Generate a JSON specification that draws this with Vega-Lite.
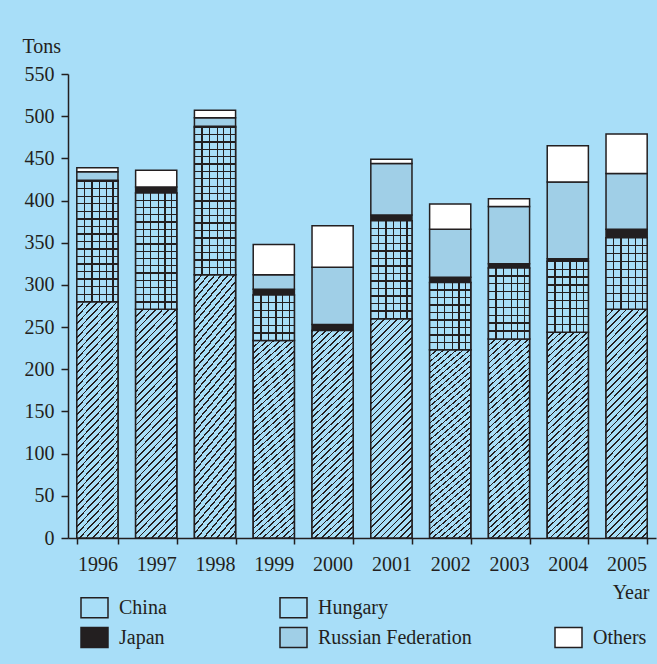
{
  "$schema": "https://vega.github.io/schema/vega-lite/v6.json",
  "width": 588,
  "height": 464,
  "autosize": {"type": "none"},
  "padding": {"left": 68, "top": 74, "right": 1, "bottom": 126},
  "background": "#a8def8",
  "config": {
    "view": {"stroke": null},
    "font": "Liberation Serif",
    "axis": {"domainColor": "#231f20", "tickColor": "#231f20", "labelColor": "#231f20", "titleColor": "#231f20", "labelFont": "Liberation Serif", "titleFont": "Liberation Serif", "labelFontSize": 20, "titleFontSize": 20, "titleFontWeight": "normal", "domainWidth": 1.5, "tickWidth": 1.5, "grid": false},
    "legend": {"labelFont": "Liberation Serif", "labelFontSize": 20, "labelColor": "#231f20"}
  },
  "data": {"values": [
    {"year": "1996", "series": "China", "tons": 280},
    {"year": "1996", "series": "Hungary", "tons": 143},
    {"year": "1996", "series": "Japan", "tons": 1},
    {"year": "1996", "series": "Russian Federation", "tons": 10},
    {"year": "1996", "series": "Others", "tons": 5},
    {"year": "1997", "series": "China", "tons": 271},
    {"year": "1997", "series": "Hungary", "tons": 138},
    {"year": "1997", "series": "Japan", "tons": 7},
    {"year": "1997", "series": "Russian Federation", "tons": 0},
    {"year": "1997", "series": "Others", "tons": 20},
    {"year": "1998", "series": "China", "tons": 312},
    {"year": "1998", "series": "Hungary", "tons": 175},
    {"year": "1998", "series": "Japan", "tons": 1},
    {"year": "1998", "series": "Russian Federation", "tons": 10},
    {"year": "1998", "series": "Others", "tons": 9},
    {"year": "1999", "series": "China", "tons": 234},
    {"year": "1999", "series": "Hungary", "tons": 54},
    {"year": "1999", "series": "Japan", "tons": 7},
    {"year": "1999", "series": "Russian Federation", "tons": 17},
    {"year": "1999", "series": "Others", "tons": 36},
    {"year": "2000", "series": "China", "tons": 246},
    {"year": "2000", "series": "Hungary", "tons": 0},
    {"year": "2000", "series": "Japan", "tons": 7},
    {"year": "2000", "series": "Russian Federation", "tons": 68},
    {"year": "2000", "series": "Others", "tons": 49},
    {"year": "2001", "series": "China", "tons": 260},
    {"year": "2001", "series": "Hungary", "tons": 116},
    {"year": "2001", "series": "Japan", "tons": 7},
    {"year": "2001", "series": "Russian Federation", "tons": 61},
    {"year": "2001", "series": "Others", "tons": 5},
    {"year": "2002", "series": "China", "tons": 223},
    {"year": "2002", "series": "Hungary", "tons": 80},
    {"year": "2002", "series": "Japan", "tons": 6},
    {"year": "2002", "series": "Russian Federation", "tons": 57},
    {"year": "2002", "series": "Others", "tons": 30},
    {"year": "2003", "series": "China", "tons": 236},
    {"year": "2003", "series": "Hungary", "tons": 84},
    {"year": "2003", "series": "Japan", "tons": 5},
    {"year": "2003", "series": "Russian Federation", "tons": 68},
    {"year": "2003", "series": "Others", "tons": 9},
    {"year": "2004", "series": "China", "tons": 244},
    {"year": "2004", "series": "Hungary", "tons": 84},
    {"year": "2004", "series": "Japan", "tons": 3},
    {"year": "2004", "series": "Russian Federation", "tons": 91},
    {"year": "2004", "series": "Others", "tons": 43},
    {"year": "2005", "series": "China", "tons": 271},
    {"year": "2005", "series": "Hungary", "tons": 85},
    {"year": "2005", "series": "Japan", "tons": 10},
    {"year": "2005", "series": "Russian Federation", "tons": 66},
    {"year": "2005", "series": "Others", "tons": 47}
  ]},
  "transform": [
    {"calculate": "indexof(['China','Hungary','Japan','Russian Federation','Others'], datum.series)", "as": "ord"},
    {"stack": "tons", "groupby": ["year"], "sort": [{"field": "ord", "order": "ascending"}], "as": ["y0", "y1"]},
    {"filter": "datum.tons > 0"}
  ],
  "encoding": {
    "x": {
      "field": "year", "type": "nominal",
      "scale": {"paddingInner": 0.3, "paddingOuter": 0.15},
      "axis": {"labelAngle": 0, "tickBand": "extent", "tickSize": 6, "labelPadding": 10, "title": "Year", "titleAnchor": "end", "titleAlign": "right", "titleBaseline": "alphabetic", "titleX": 581, "titleY": 60}
    },
    "y": {
      "field": "y0", "type": "quantitative",
      "scale": {"domain": [0, 550], "nice": false},
      "axis": {"values": [0, 50, 100, 150, 200, 250, 300, 350, 400, 450, 500, 550], "tickSize": 7, "labelPadding": 7, "title": "Tons", "titleAngle": 0, "titleAlign": "left", "titleBaseline": "alphabetic", "titleX": -46, "titleY": -22}
    },
    "y2": {"field": "y1"}
  },
  "layer": [
    {
      "mark": {"type": "bar", "strokeWidth": 1.5},
      "encoding": {
        "fill": {
          "field": "series", "type": "nominal",
          "scale": {"domain": ["China", "Hungary", "blank", "Japan", "Russian Federation", "Others"], "range": ["#a8def8", "#a8def8", "transparent", "#231f20", "#a0cfe7", "#ffffff"]},
          "legend": {"title": null, "orient": "none", "legendX": 12, "legendY": 519, "direction": "horizontal", "columns": 3, "columnPadding": 80, "rowPadding": 2, "padding": 0, "symbolType": "M-1,-0.74H1V0.74H-1Z", "symbolSize": 729, "symbolStrokeWidth": 1.5, "labelOffset": 10,
            "labelExpr": "datum.label == 'China' ? 'China\u2800\u2800' : (datum.label == 'blank' ? '' : datum.label)",
            "encode": {"symbols": {"update": {"fill": {"condition": [
              {"test": "datum.value === 'China'", "value": {"gradient": "linear", "x1": 0, "y1": 0, "x2": 1.124, "y2": 0.833, "stops": [
                {"offset": 0, "color": "#a8def8"}, {"offset": 0.09, "color": "#a8def8"}, {"offset": 0.09, "color": "#231f20"}, {"offset": 0.13, "color": "#231f20"},
                {"offset": 0.13, "color": "#a8def8"}, {"offset": 0.257, "color": "#a8def8"}, {"offset": 0.257, "color": "#231f20"}, {"offset": 0.297, "color": "#231f20"},
                {"offset": 0.297, "color": "#a8def8"}, {"offset": 0.424, "color": "#a8def8"}, {"offset": 0.424, "color": "#231f20"}, {"offset": 0.464, "color": "#231f20"},
                {"offset": 0.464, "color": "#a8def8"}, {"offset": 0.591, "color": "#a8def8"}, {"offset": 0.591, "color": "#231f20"}, {"offset": 0.631, "color": "#231f20"},
                {"offset": 0.631, "color": "#a8def8"}, {"offset": 0.758, "color": "#a8def8"}, {"offset": 0.758, "color": "#231f20"}, {"offset": 0.798, "color": "#231f20"},
                {"offset": 0.798, "color": "#a8def8"}, {"offset": 0.925, "color": "#a8def8"}, {"offset": 0.925, "color": "#231f20"}, {"offset": 0.965, "color": "#231f20"},
                {"offset": 0.965, "color": "#a8def8"}, {"offset": 1, "color": "#a8def8"}
              ]}},
              {"test": "datum.value === 'Hungary'", "value": {"gradient": "linear", "x1": 0, "y1": 0, "x2": 1, "y2": 0, "stops": [
                {"offset": 0, "color": "#a8def8"}, {"offset": 0.31, "color": "#a8def8"}, {"offset": 0.31, "color": "#231f20"}, {"offset": 0.36, "color": "#231f20"},
                {"offset": 0.36, "color": "#a8def8"}, {"offset": 0.64, "color": "#a8def8"}, {"offset": 0.64, "color": "#231f20"}, {"offset": 0.69, "color": "#231f20"},
                {"offset": 0.69, "color": "#a8def8"}, {"offset": 1, "color": "#a8def8"}
              ]}},
              {"test": "datum.value === 'Japan'", "value": "#231f20"},
              {"test": "datum.value === 'Russian Federation'", "value": "#a0cfe7"},
              {"test": "datum.value === 'blank'", "value": "transparent"}
            ], "value": "#ffffff"}}}}
          }
        },
        "stroke": {
          "field": "series", "type": "nominal",
          "scale": {"domain": ["China", "Hungary", "blank", "Japan", "Russian Federation", "Others"], "range": ["#231f20", "#231f20", "transparent", "#231f20", "#231f20", "#231f20"]},
          "legend": {"title": null, "orient": "none", "legendX": 12, "legendY": 519, "direction": "horizontal", "columns": 3, "columnPadding": 80, "rowPadding": 2, "padding": 0, "symbolType": "M-1,-0.74H1V0.74H-1Z", "symbolSize": 729, "symbolStrokeWidth": 1.5, "labelOffset": 10,
            "labelExpr": "datum.label == 'China' ? 'China\u2800\u2800' : (datum.label == 'blank' ? '' : datum.label)",
            "encode": {"symbols": {"update": {"fill": {"condition": [
              {"test": "datum.value === 'China'", "value": {"gradient": "linear", "x1": 0, "y1": 0, "x2": 1.124, "y2": 0.833, "stops": [
                {"offset": 0, "color": "#a8def8"}, {"offset": 0.09, "color": "#a8def8"}, {"offset": 0.09, "color": "#231f20"}, {"offset": 0.13, "color": "#231f20"},
                {"offset": 0.13, "color": "#a8def8"}, {"offset": 0.257, "color": "#a8def8"}, {"offset": 0.257, "color": "#231f20"}, {"offset": 0.297, "color": "#231f20"},
                {"offset": 0.297, "color": "#a8def8"}, {"offset": 0.424, "color": "#a8def8"}, {"offset": 0.424, "color": "#231f20"}, {"offset": 0.464, "color": "#231f20"},
                {"offset": 0.464, "color": "#a8def8"}, {"offset": 0.591, "color": "#a8def8"}, {"offset": 0.591, "color": "#231f20"}, {"offset": 0.631, "color": "#231f20"},
                {"offset": 0.631, "color": "#a8def8"}, {"offset": 0.758, "color": "#a8def8"}, {"offset": 0.758, "color": "#231f20"}, {"offset": 0.798, "color": "#231f20"},
                {"offset": 0.798, "color": "#a8def8"}, {"offset": 0.925, "color": "#a8def8"}, {"offset": 0.925, "color": "#231f20"}, {"offset": 0.965, "color": "#231f20"},
                {"offset": 0.965, "color": "#a8def8"}, {"offset": 1, "color": "#a8def8"}
              ]}},
              {"test": "datum.value === 'Hungary'", "value": {"gradient": "linear", "x1": 0, "y1": 0, "x2": 1, "y2": 0, "stops": [
                {"offset": 0, "color": "#a8def8"}, {"offset": 0.31, "color": "#a8def8"}, {"offset": 0.31, "color": "#231f20"}, {"offset": 0.36, "color": "#231f20"},
                {"offset": 0.36, "color": "#a8def8"}, {"offset": 0.64, "color": "#a8def8"}, {"offset": 0.64, "color": "#231f20"}, {"offset": 0.69, "color": "#231f20"},
                {"offset": 0.69, "color": "#a8def8"}, {"offset": 1, "color": "#a8def8"}
              ]}},
              {"test": "datum.value === 'Japan'", "value": "#231f20"},
              {"test": "datum.value === 'Russian Federation'", "value": "#a0cfe7"},
              {"test": "datum.value === 'blank'", "value": "transparent"}
            ], "value": "#ffffff"}}}}
          }
        }
      }
    },
    {
      "transform": [{"filter": "datum.series == 'China'"}],
      "mark": {"type": "bar", "strokeWidth": 1.5, "stroke": "#231f20",
        "fill": {"gradient": "linear", "x1": 0, "y1": 0, "x2": 0.213, "y2": 1.146, "stops": [
          {"offset": 0, "color": "#231f20"}, {"offset": 0.0065, "color": "#231f20"}, {"offset": 0.0065, "color": "#a8def8"}, {"offset": 0.025, "color": "#a8def8"},
          {"offset": 0.025, "color": "#231f20"}, {"offset": 0.0315, "color": "#231f20"}, {"offset": 0.0315, "color": "#a8def8"}, {"offset": 0.05, "color": "#a8def8"},
          {"offset": 0.05, "color": "#231f20"}, {"offset": 0.0565, "color": "#231f20"}, {"offset": 0.0565, "color": "#a8def8"}, {"offset": 0.075, "color": "#a8def8"},
          {"offset": 0.075, "color": "#231f20"}, {"offset": 0.0815, "color": "#231f20"}, {"offset": 0.0815, "color": "#a8def8"}, {"offset": 0.1, "color": "#a8def8"},
          {"offset": 0.1, "color": "#231f20"}, {"offset": 0.1065, "color": "#231f20"}, {"offset": 0.1065, "color": "#a8def8"}, {"offset": 0.125, "color": "#a8def8"},
          {"offset": 0.125, "color": "#231f20"}, {"offset": 0.1315, "color": "#231f20"}, {"offset": 0.1315, "color": "#a8def8"}, {"offset": 0.15, "color": "#a8def8"},
          {"offset": 0.15, "color": "#231f20"}, {"offset": 0.1565, "color": "#231f20"}, {"offset": 0.1565, "color": "#a8def8"}, {"offset": 0.175, "color": "#a8def8"},
          {"offset": 0.175, "color": "#231f20"}, {"offset": 0.1815, "color": "#231f20"}, {"offset": 0.1815, "color": "#a8def8"}, {"offset": 0.2, "color": "#a8def8"},
          {"offset": 0.2, "color": "#231f20"}, {"offset": 0.2065, "color": "#231f20"}, {"offset": 0.2065, "color": "#a8def8"}, {"offset": 0.225, "color": "#a8def8"},
          {"offset": 0.225, "color": "#231f20"}, {"offset": 0.2315, "color": "#231f20"}, {"offset": 0.2315, "color": "#a8def8"}, {"offset": 0.25, "color": "#a8def8"},
          {"offset": 0.25, "color": "#231f20"}, {"offset": 0.2565, "color": "#231f20"}, {"offset": 0.2565, "color": "#a8def8"}, {"offset": 0.275, "color": "#a8def8"},
          {"offset": 0.275, "color": "#231f20"}, {"offset": 0.2815, "color": "#231f20"}, {"offset": 0.2815, "color": "#a8def8"}, {"offset": 0.3, "color": "#a8def8"},
          {"offset": 0.3, "color": "#231f20"}, {"offset": 0.3065, "color": "#231f20"}, {"offset": 0.3065, "color": "#a8def8"}, {"offset": 0.325, "color": "#a8def8"},
          {"offset": 0.325, "color": "#231f20"}, {"offset": 0.3315, "color": "#231f20"}, {"offset": 0.3315, "color": "#a8def8"}, {"offset": 0.35, "color": "#a8def8"},
          {"offset": 0.35, "color": "#231f20"}, {"offset": 0.3565, "color": "#231f20"}, {"offset": 0.3565, "color": "#a8def8"}, {"offset": 0.375, "color": "#a8def8"},
          {"offset": 0.375, "color": "#231f20"}, {"offset": 0.3815, "color": "#231f20"}, {"offset": 0.3815, "color": "#a8def8"}, {"offset": 0.4, "color": "#a8def8"},
          {"offset": 0.4, "color": "#231f20"}, {"offset": 0.4065, "color": "#231f20"}, {"offset": 0.4065, "color": "#a8def8"}, {"offset": 0.425, "color": "#a8def8"},
          {"offset": 0.425, "color": "#231f20"}, {"offset": 0.4315, "color": "#231f20"}, {"offset": 0.4315, "color": "#a8def8"}, {"offset": 0.45, "color": "#a8def8"},
          {"offset": 0.45, "color": "#231f20"}, {"offset": 0.4565, "color": "#231f20"}, {"offset": 0.4565, "color": "#a8def8"}, {"offset": 0.475, "color": "#a8def8"},
          {"offset": 0.475, "color": "#231f20"}, {"offset": 0.4815, "color": "#231f20"}, {"offset": 0.4815, "color": "#a8def8"}, {"offset": 0.5, "color": "#a8def8"},
          {"offset": 0.5, "color": "#231f20"}, {"offset": 0.5065, "color": "#231f20"}, {"offset": 0.5065, "color": "#a8def8"}, {"offset": 0.525, "color": "#a8def8"},
          {"offset": 0.525, "color": "#231f20"}, {"offset": 0.5315, "color": "#231f20"}, {"offset": 0.5315, "color": "#a8def8"}, {"offset": 0.55, "color": "#a8def8"},
          {"offset": 0.55, "color": "#231f20"}, {"offset": 0.5565, "color": "#231f20"}, {"offset": 0.5565, "color": "#a8def8"}, {"offset": 0.575, "color": "#a8def8"},
          {"offset": 0.575, "color": "#231f20"}, {"offset": 0.5815, "color": "#231f20"}, {"offset": 0.5815, "color": "#a8def8"}, {"offset": 0.6, "color": "#a8def8"},
          {"offset": 0.6, "color": "#231f20"}, {"offset": 0.6065, "color": "#231f20"}, {"offset": 0.6065, "color": "#a8def8"}, {"offset": 0.625, "color": "#a8def8"},
          {"offset": 0.625, "color": "#231f20"}, {"offset": 0.6315, "color": "#231f20"}, {"offset": 0.6315, "color": "#a8def8"}, {"offset": 0.65, "color": "#a8def8"},
          {"offset": 0.65, "color": "#231f20"}, {"offset": 0.6565, "color": "#231f20"}, {"offset": 0.6565, "color": "#a8def8"}, {"offset": 0.675, "color": "#a8def8"},
          {"offset": 0.675, "color": "#231f20"}, {"offset": 0.6815, "color": "#231f20"}, {"offset": 0.6815, "color": "#a8def8"}, {"offset": 0.7, "color": "#a8def8"},
          {"offset": 0.7, "color": "#231f20"}, {"offset": 0.7065, "color": "#231f20"}, {"offset": 0.7065, "color": "#a8def8"}, {"offset": 0.725, "color": "#a8def8"},
          {"offset": 0.725, "color": "#231f20"}, {"offset": 0.7315, "color": "#231f20"}, {"offset": 0.7315, "color": "#a8def8"}, {"offset": 0.75, "color": "#a8def8"},
          {"offset": 0.75, "color": "#231f20"}, {"offset": 0.7565, "color": "#231f20"}, {"offset": 0.7565, "color": "#a8def8"}, {"offset": 0.775, "color": "#a8def8"},
          {"offset": 0.775, "color": "#231f20"}, {"offset": 0.7815, "color": "#231f20"}, {"offset": 0.7815, "color": "#a8def8"}, {"offset": 0.8, "color": "#a8def8"},
          {"offset": 0.8, "color": "#231f20"}, {"offset": 0.8065, "color": "#231f20"}, {"offset": 0.8065, "color": "#a8def8"}, {"offset": 0.825, "color": "#a8def8"},
          {"offset": 0.825, "color": "#231f20"}, {"offset": 0.8315, "color": "#231f20"}, {"offset": 0.8315, "color": "#a8def8"}, {"offset": 0.85, "color": "#a8def8"},
          {"offset": 0.85, "color": "#231f20"}, {"offset": 0.8565, "color": "#231f20"}, {"offset": 0.8565, "color": "#a8def8"}, {"offset": 0.875, "color": "#a8def8"},
          {"offset": 0.875, "color": "#231f20"}, {"offset": 0.8815, "color": "#231f20"}, {"offset": 0.8815, "color": "#a8def8"}, {"offset": 0.9, "color": "#a8def8"},
          {"offset": 0.9, "color": "#231f20"}, {"offset": 0.9065, "color": "#231f20"}, {"offset": 0.9065, "color": "#a8def8"}, {"offset": 0.925, "color": "#a8def8"},
          {"offset": 0.925, "color": "#231f20"}, {"offset": 0.9315, "color": "#231f20"}, {"offset": 0.9315, "color": "#a8def8"}, {"offset": 0.95, "color": "#a8def8"},
          {"offset": 0.95, "color": "#231f20"}, {"offset": 0.9565, "color": "#231f20"}, {"offset": 0.9565, "color": "#a8def8"}, {"offset": 0.975, "color": "#a8def8"},
          {"offset": 0.975, "color": "#231f20"}, {"offset": 0.9815, "color": "#231f20"}, {"offset": 0.9815, "color": "#a8def8"}, {"offset": 1, "color": "#a8def8"}
        ]}
      }
    },
    {
      "transform": [{"filter": "datum.series == 'Hungary'"}],
      "mark": {"type": "bar", "strokeWidth": 1.5, "stroke": "#231f20",
        "fill": {"gradient": "linear", "x1": 0, "y1": 0, "x2": 1, "y2": 0, "stops": [
          {"offset": 0, "color": "#a8def8"}, {"offset": 0.172, "color": "#a8def8"}, {"offset": 0.172, "color": "#231f20"}, {"offset": 0.202, "color": "#231f20"},
          {"offset": 0.202, "color": "#a8def8"}, {"offset": 0.351, "color": "#a8def8"}, {"offset": 0.351, "color": "#231f20"}, {"offset": 0.381, "color": "#231f20"},
          {"offset": 0.381, "color": "#a8def8"}, {"offset": 0.538, "color": "#a8def8"}, {"offset": 0.538, "color": "#231f20"}, {"offset": 0.568, "color": "#231f20"},
          {"offset": 0.568, "color": "#a8def8"}, {"offset": 0.700, "color": "#a8def8"}, {"offset": 0.700, "color": "#231f20"}, {"offset": 0.730, "color": "#231f20"},
          {"offset": 0.730, "color": "#a8def8"}, {"offset": 0.863, "color": "#a8def8"}, {"offset": 0.863, "color": "#231f20"}, {"offset": 0.893, "color": "#231f20"},
          {"offset": 0.893, "color": "#a8def8"}, {"offset": 1, "color": "#a8def8"}
        ]}
      }
    },
    {
      "transform": [{"filter": "datum.series == 'Hungary' && (datum.year == '1996' || datum.year == '1997')"}],
      "mark": {"type": "bar", "strokeWidth": 0,
        "fill": {"gradient": "linear", "x1": 0, "y1": 0, "x2": 0, "y2": 1, "stops": [
          {"offset": 0, "color": "rgba(35,31,32,0)"},
          {"offset": 0.057, "color": "rgba(35,31,32,0)"}, {"offset": 0.057, "color": "#231f20"}, {"offset": 0.068, "color": "#231f20"}, {"offset": 0.068, "color": "rgba(35,31,32,0)"},
          {"offset": 0.1195, "color": "rgba(35,31,32,0)"}, {"offset": 0.1195, "color": "#231f20"}, {"offset": 0.1305, "color": "#231f20"}, {"offset": 0.1305, "color": "rgba(35,31,32,0)"},
          {"offset": 0.182, "color": "rgba(35,31,32,0)"}, {"offset": 0.182, "color": "#231f20"}, {"offset": 0.193, "color": "#231f20"}, {"offset": 0.193, "color": "rgba(35,31,32,0)"},
          {"offset": 0.2445, "color": "rgba(35,31,32,0)"}, {"offset": 0.2445, "color": "#231f20"}, {"offset": 0.2555, "color": "#231f20"}, {"offset": 0.2555, "color": "rgba(35,31,32,0)"},
          {"offset": 0.307, "color": "rgba(35,31,32,0)"}, {"offset": 0.307, "color": "#231f20"}, {"offset": 0.318, "color": "#231f20"}, {"offset": 0.318, "color": "rgba(35,31,32,0)"},
          {"offset": 0.3695, "color": "rgba(35,31,32,0)"}, {"offset": 0.3695, "color": "#231f20"}, {"offset": 0.3805, "color": "#231f20"}, {"offset": 0.3805, "color": "rgba(35,31,32,0)"},
          {"offset": 0.432, "color": "rgba(35,31,32,0)"}, {"offset": 0.432, "color": "#231f20"}, {"offset": 0.443, "color": "#231f20"}, {"offset": 0.443, "color": "rgba(35,31,32,0)"},
          {"offset": 0.4945, "color": "rgba(35,31,32,0)"}, {"offset": 0.4945, "color": "#231f20"}, {"offset": 0.5055, "color": "#231f20"}, {"offset": 0.5055, "color": "rgba(35,31,32,0)"},
          {"offset": 0.557, "color": "rgba(35,31,32,0)"}, {"offset": 0.557, "color": "#231f20"}, {"offset": 0.568, "color": "#231f20"}, {"offset": 0.568, "color": "rgba(35,31,32,0)"},
          {"offset": 0.6195, "color": "rgba(35,31,32,0)"}, {"offset": 0.6195, "color": "#231f20"}, {"offset": 0.6305, "color": "#231f20"}, {"offset": 0.6305, "color": "rgba(35,31,32,0)"},
          {"offset": 0.682, "color": "rgba(35,31,32,0)"}, {"offset": 0.682, "color": "#231f20"}, {"offset": 0.693, "color": "#231f20"}, {"offset": 0.693, "color": "rgba(35,31,32,0)"},
          {"offset": 0.7445, "color": "rgba(35,31,32,0)"}, {"offset": 0.7445, "color": "#231f20"}, {"offset": 0.7555, "color": "#231f20"}, {"offset": 0.7555, "color": "rgba(35,31,32,0)"},
          {"offset": 0.807, "color": "rgba(35,31,32,0)"}, {"offset": 0.807, "color": "#231f20"}, {"offset": 0.818, "color": "#231f20"}, {"offset": 0.818, "color": "rgba(35,31,32,0)"},
          {"offset": 0.8695, "color": "rgba(35,31,32,0)"}, {"offset": 0.8695, "color": "#231f20"}, {"offset": 0.8805, "color": "#231f20"}, {"offset": 0.8805, "color": "rgba(35,31,32,0)"},
          {"offset": 0.932, "color": "rgba(35,31,32,0)"}, {"offset": 0.932, "color": "#231f20"}, {"offset": 0.943, "color": "#231f20"}, {"offset": 0.943, "color": "rgba(35,31,32,0)"},
          {"offset": 1, "color": "rgba(35,31,32,0)"}
        ]}
      }
    },
    {
      "transform": [{"filter": "datum.series == 'Hungary' && datum.year == '1998'"}],
      "mark": {"type": "bar", "strokeWidth": 0,
        "fill": {"gradient": "linear", "x1": 0, "y1": 0, "x2": 0, "y2": 1, "stops": [
          {"offset": 0, "color": "rgba(35,31,32,0)"},
          {"offset": 0.0455, "color": "rgba(35,31,32,0)"}, {"offset": 0.0455, "color": "#231f20"}, {"offset": 0.0545, "color": "#231f20"}, {"offset": 0.0545, "color": "rgba(35,31,32,0)"},
          {"offset": 0.0955, "color": "rgba(35,31,32,0)"}, {"offset": 0.0955, "color": "#231f20"}, {"offset": 0.1045, "color": "#231f20"}, {"offset": 0.1045, "color": "rgba(35,31,32,0)"},
          {"offset": 0.1455, "color": "rgba(35,31,32,0)"}, {"offset": 0.1455, "color": "#231f20"}, {"offset": 0.1545, "color": "#231f20"}, {"offset": 0.1545, "color": "rgba(35,31,32,0)"},
          {"offset": 0.1955, "color": "rgba(35,31,32,0)"}, {"offset": 0.1955, "color": "#231f20"}, {"offset": 0.2045, "color": "#231f20"}, {"offset": 0.2045, "color": "rgba(35,31,32,0)"},
          {"offset": 0.2455, "color": "rgba(35,31,32,0)"}, {"offset": 0.2455, "color": "#231f20"}, {"offset": 0.2545, "color": "#231f20"}, {"offset": 0.2545, "color": "rgba(35,31,32,0)"},
          {"offset": 0.2955, "color": "rgba(35,31,32,0)"}, {"offset": 0.2955, "color": "#231f20"}, {"offset": 0.3045, "color": "#231f20"}, {"offset": 0.3045, "color": "rgba(35,31,32,0)"},
          {"offset": 0.3455, "color": "rgba(35,31,32,0)"}, {"offset": 0.3455, "color": "#231f20"}, {"offset": 0.3545, "color": "#231f20"}, {"offset": 0.3545, "color": "rgba(35,31,32,0)"},
          {"offset": 0.3955, "color": "rgba(35,31,32,0)"}, {"offset": 0.3955, "color": "#231f20"}, {"offset": 0.4045, "color": "#231f20"}, {"offset": 0.4045, "color": "rgba(35,31,32,0)"},
          {"offset": 0.4455, "color": "rgba(35,31,32,0)"}, {"offset": 0.4455, "color": "#231f20"}, {"offset": 0.4545, "color": "#231f20"}, {"offset": 0.4545, "color": "rgba(35,31,32,0)"},
          {"offset": 0.4955, "color": "rgba(35,31,32,0)"}, {"offset": 0.4955, "color": "#231f20"}, {"offset": 0.5045, "color": "#231f20"}, {"offset": 0.5045, "color": "rgba(35,31,32,0)"},
          {"offset": 0.5455, "color": "rgba(35,31,32,0)"}, {"offset": 0.5455, "color": "#231f20"}, {"offset": 0.5545, "color": "#231f20"}, {"offset": 0.5545, "color": "rgba(35,31,32,0)"},
          {"offset": 0.5955, "color": "rgba(35,31,32,0)"}, {"offset": 0.5955, "color": "#231f20"}, {"offset": 0.6045, "color": "#231f20"}, {"offset": 0.6045, "color": "rgba(35,31,32,0)"},
          {"offset": 0.6455, "color": "rgba(35,31,32,0)"}, {"offset": 0.6455, "color": "#231f20"}, {"offset": 0.6545, "color": "#231f20"}, {"offset": 0.6545, "color": "rgba(35,31,32,0)"},
          {"offset": 0.6955, "color": "rgba(35,31,32,0)"}, {"offset": 0.6955, "color": "#231f20"}, {"offset": 0.7045, "color": "#231f20"}, {"offset": 0.7045, "color": "rgba(35,31,32,0)"},
          {"offset": 0.7455, "color": "rgba(35,31,32,0)"}, {"offset": 0.7455, "color": "#231f20"}, {"offset": 0.7545, "color": "#231f20"}, {"offset": 0.7545, "color": "rgba(35,31,32,0)"},
          {"offset": 0.7955, "color": "rgba(35,31,32,0)"}, {"offset": 0.7955, "color": "#231f20"}, {"offset": 0.8045, "color": "#231f20"}, {"offset": 0.8045, "color": "rgba(35,31,32,0)"},
          {"offset": 0.8455, "color": "rgba(35,31,32,0)"}, {"offset": 0.8455, "color": "#231f20"}, {"offset": 0.8545, "color": "#231f20"}, {"offset": 0.8545, "color": "rgba(35,31,32,0)"},
          {"offset": 0.8955, "color": "rgba(35,31,32,0)"}, {"offset": 0.8955, "color": "#231f20"}, {"offset": 0.9045, "color": "#231f20"}, {"offset": 0.9045, "color": "rgba(35,31,32,0)"},
          {"offset": 0.9455, "color": "rgba(35,31,32,0)"}, {"offset": 0.9455, "color": "#231f20"}, {"offset": 0.9545, "color": "#231f20"}, {"offset": 0.9545, "color": "rgba(35,31,32,0)"},
          {"offset": 1, "color": "rgba(35,31,32,0)"}
        ]}
      }
    },
    {
      "transform": [{"filter": "datum.series == 'Hungary' && datum.year == '1999'"}],
      "mark": {"type": "bar", "strokeWidth": 0,
        "fill": {"gradient": "linear", "x1": 0, "y1": 0, "x2": 0, "y2": 1, "stops": [
          {"offset": 0, "color": "rgba(35,31,32,0)"},
          {"offset": 0.1527, "color": "rgba(35,31,32,0)"}, {"offset": 0.1527, "color": "#231f20"}, {"offset": 0.1807, "color": "#231f20"}, {"offset": 0.1807, "color": "rgba(35,31,32,0)"},
          {"offset": 0.3193, "color": "rgba(35,31,32,0)"}, {"offset": 0.3193, "color": "#231f20"}, {"offset": 0.3473, "color": "#231f20"}, {"offset": 0.3473, "color": "rgba(35,31,32,0)"},
          {"offset": 0.486, "color": "rgba(35,31,32,0)"}, {"offset": 0.486, "color": "#231f20"}, {"offset": 0.514, "color": "#231f20"}, {"offset": 0.514, "color": "rgba(35,31,32,0)"},
          {"offset": 0.6527, "color": "rgba(35,31,32,0)"}, {"offset": 0.6527, "color": "#231f20"}, {"offset": 0.6807, "color": "#231f20"}, {"offset": 0.6807, "color": "rgba(35,31,32,0)"},
          {"offset": 0.8193, "color": "rgba(35,31,32,0)"}, {"offset": 0.8193, "color": "#231f20"}, {"offset": 0.8473, "color": "#231f20"}, {"offset": 0.8473, "color": "rgba(35,31,32,0)"},
          {"offset": 1, "color": "rgba(35,31,32,0)"}
        ]}
      }
    },
    {
      "transform": [{"filter": "datum.series == 'Hungary' && datum.year == '2001'"}],
      "mark": {"type": "bar", "strokeWidth": 0,
        "fill": {"gradient": "linear", "x1": 0, "y1": 0, "x2": 0, "y2": 1, "stops": [
          {"offset": 0, "color": "rgba(35,31,32,0)"},
          {"offset": 0.0703, "color": "rgba(35,31,32,0)"}, {"offset": 0.0703, "color": "#231f20"}, {"offset": 0.0835, "color": "#231f20"}, {"offset": 0.0835, "color": "rgba(35,31,32,0)"},
          {"offset": 0.1472, "color": "rgba(35,31,32,0)"}, {"offset": 0.1472, "color": "#231f20"}, {"offset": 0.1604, "color": "#231f20"}, {"offset": 0.1604, "color": "rgba(35,31,32,0)"},
          {"offset": 0.2242, "color": "rgba(35,31,32,0)"}, {"offset": 0.2242, "color": "#231f20"}, {"offset": 0.2374, "color": "#231f20"}, {"offset": 0.2374, "color": "rgba(35,31,32,0)"},
          {"offset": 0.3011, "color": "rgba(35,31,32,0)"}, {"offset": 0.3011, "color": "#231f20"}, {"offset": 0.3143, "color": "#231f20"}, {"offset": 0.3143, "color": "rgba(35,31,32,0)"},
          {"offset": 0.378, "color": "rgba(35,31,32,0)"}, {"offset": 0.378, "color": "#231f20"}, {"offset": 0.3912, "color": "#231f20"}, {"offset": 0.3912, "color": "rgba(35,31,32,0)"},
          {"offset": 0.4549, "color": "rgba(35,31,32,0)"}, {"offset": 0.4549, "color": "#231f20"}, {"offset": 0.4681, "color": "#231f20"}, {"offset": 0.4681, "color": "rgba(35,31,32,0)"},
          {"offset": 0.5319, "color": "rgba(35,31,32,0)"}, {"offset": 0.5319, "color": "#231f20"}, {"offset": 0.5451, "color": "#231f20"}, {"offset": 0.5451, "color": "rgba(35,31,32,0)"},
          {"offset": 0.6088, "color": "rgba(35,31,32,0)"}, {"offset": 0.6088, "color": "#231f20"}, {"offset": 0.622, "color": "#231f20"}, {"offset": 0.622, "color": "rgba(35,31,32,0)"},
          {"offset": 0.6857, "color": "rgba(35,31,32,0)"}, {"offset": 0.6857, "color": "#231f20"}, {"offset": 0.6989, "color": "#231f20"}, {"offset": 0.6989, "color": "rgba(35,31,32,0)"},
          {"offset": 0.7626, "color": "rgba(35,31,32,0)"}, {"offset": 0.7626, "color": "#231f20"}, {"offset": 0.7758, "color": "#231f20"}, {"offset": 0.7758, "color": "rgba(35,31,32,0)"},
          {"offset": 0.8396, "color": "rgba(35,31,32,0)"}, {"offset": 0.8396, "color": "#231f20"}, {"offset": 0.8528, "color": "#231f20"}, {"offset": 0.8528, "color": "rgba(35,31,32,0)"},
          {"offset": 0.9165, "color": "rgba(35,31,32,0)"}, {"offset": 0.9165, "color": "#231f20"}, {"offset": 0.9297, "color": "#231f20"}, {"offset": 0.9297, "color": "rgba(35,31,32,0)"},
          {"offset": 1, "color": "rgba(35,31,32,0)"}
        ]}
      }
    },
    {
      "transform": [{"filter": "datum.series == 'Hungary' && (datum.year == '2002' || datum.year == '2003' || datum.year == '2004' || datum.year == '2005')"}],
      "mark": {"type": "bar", "strokeWidth": 0,
        "fill": {"gradient": "linear", "x1": 0, "y1": 0, "x2": 0, "y2": 1, "stops": [
          {"offset": 0, "color": "rgba(35,31,32,0)"},
          {"offset": 0.1018, "color": "rgba(35,31,32,0)"}, {"offset": 0.1018, "color": "#231f20"}, {"offset": 0.1204, "color": "#231f20"}, {"offset": 0.1204, "color": "rgba(35,31,32,0)"},
          {"offset": 0.2129, "color": "rgba(35,31,32,0)"}, {"offset": 0.2129, "color": "#231f20"}, {"offset": 0.2315, "color": "#231f20"}, {"offset": 0.2315, "color": "rgba(35,31,32,0)"},
          {"offset": 0.324, "color": "rgba(35,31,32,0)"}, {"offset": 0.324, "color": "#231f20"}, {"offset": 0.3426, "color": "#231f20"}, {"offset": 0.3426, "color": "rgba(35,31,32,0)"},
          {"offset": 0.4351, "color": "rgba(35,31,32,0)"}, {"offset": 0.4351, "color": "#231f20"}, {"offset": 0.4537, "color": "#231f20"}, {"offset": 0.4537, "color": "rgba(35,31,32,0)"},
          {"offset": 0.5463, "color": "rgba(35,31,32,0)"}, {"offset": 0.5463, "color": "#231f20"}, {"offset": 0.5649, "color": "#231f20"}, {"offset": 0.5649, "color": "rgba(35,31,32,0)"},
          {"offset": 0.6574, "color": "rgba(35,31,32,0)"}, {"offset": 0.6574, "color": "#231f20"}, {"offset": 0.676, "color": "#231f20"}, {"offset": 0.676, "color": "rgba(35,31,32,0)"},
          {"offset": 0.7685, "color": "rgba(35,31,32,0)"}, {"offset": 0.7685, "color": "#231f20"}, {"offset": 0.7871, "color": "#231f20"}, {"offset": 0.7871, "color": "rgba(35,31,32,0)"},
          {"offset": 0.8796, "color": "rgba(35,31,32,0)"}, {"offset": 0.8796, "color": "#231f20"}, {"offset": 0.8982, "color": "#231f20"}, {"offset": 0.8982, "color": "rgba(35,31,32,0)"},
          {"offset": 1, "color": "rgba(35,31,32,0)"}
        ]}
      }
    }
  ]
}
